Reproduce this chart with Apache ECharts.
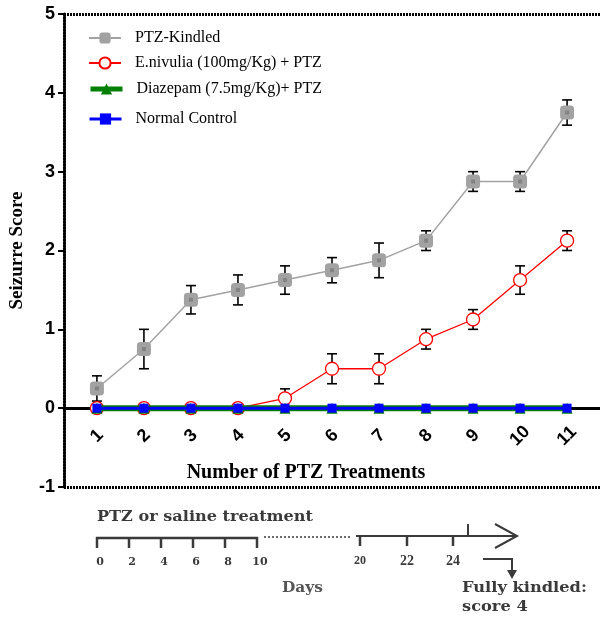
<!DOCTYPE html>
<html>
<head>
<meta charset="utf-8">
<script src="https://cdn.jsdelivr.net/npm/echarts@6/dist/echarts.min.js"></script>
<style>html,body{margin:0;padding:0;background:#fff}#chart{width:600px;height:620px}</style>
</head>
<body>
<div id="chart"></div>
<script>
// ---- data ----
var treatments = [1, 2, 3, 4, 5, 6, 7, 8, 9, 10, 11];
var ptzKindled = [0.25, 0.75, 1.375, 1.5, 1.625, 1.75, 1.875, 2.125, 2.875, 2.875, 3.75];
var ptzKindledSem = [0.16, 0.25, 0.18, 0.19, 0.18, 0.16, 0.22, 0.125, 0.125, 0.125, 0.16];
var eNivulia = [0, 0, 0, 0, 0.125, 0.5, 0.5, 0.875, 1.125, 1.625, 2.125];
var eNivuliaSem = [0, 0, 0, 0, 0.12, 0.19, 0.19, 0.125, 0.125, 0.18, 0.125];
var diazepam = [0, 0, 0, 0, 0, 0, 0, 0, 0, 0, 0];
var normalControl = [0, 0, 0, 0, 0, 0, 0, 0, 0, 0, 0];
var seriesNames = ['PTZ-Kindled', 'E.nivulia (100mg/Kg) + PTZ', 'Diazepam (7.5mg/Kg)+ PTZ', 'Normal Control'];
var yTicks = [-1, 0, 1, 2, 3, 4, 5];
var timelineEarlyDays = ['0', '2', '4', '6', '8', '10'];
var timelineLateDays = ['20', '22', '24'];

function pairs(ys) { return treatments.map(function (x, i) { return [x, ys[i]]; }); }
function errData(ys, sem) {
  var out = [];
  treatments.forEach(function (x, i) { if (sem[i] > 0) out.push([x, ys[i] - sem[i], ys[i] + sem[i]]); });
  return out;
}
function errRender(params, api) {
  var x = api.value(0);
  var lo = api.coord([x, api.value(1)]);
  var hi = api.coord([x, api.value(2)]);
  var w = 5;
  var st = { stroke: '#000', lineWidth: 1.6 };
  return {
    type: 'group',
    children: [
      { type: 'line', shape: { x1: hi[0], y1: hi[1], x2: lo[0], y2: lo[1] }, style: st },
      { type: 'line', shape: { x1: hi[0] - w, y1: hi[1], x2: hi[0] + w, y2: hi[1] }, style: st },
      { type: 'line', shape: { x1: lo[0] - w, y1: lo[1], x2: lo[0] + w, y2: lo[1] }, style: st }
    ]
  };
}

var chart = echarts.init(document.getElementById('chart'), null, { renderer: 'canvas' });
var serif = 'Liberation Serif';
var tlColor = '#3a3a3a';
var tlFont = 'bold 14px "DejaVu Serif"';

function legendFor(name, top, lw) {
  var l = {
    data: [name], left: 88, top: top, itemWidth: 32, itemHeight: 14, itemGap: 14, padding: 0,
    textStyle: { fontFamily: serif, fontSize: 16, color: '#000', padding: [0, 0, 0, 9] }
  };
  if (lw) l.lineStyle = { width: lw };
  return l;
}

var graphics = [];
// timeline annotation
graphics.push({ type: 'text', x: 97, y: 517, scaleX: 1.15, style: { text: 'PTZ or saline treatment', font: tlFont, fill: tlColor, verticalAlign: 'middle' } });
graphics.push({ type: 'line', shape: { x1: 96, y1: 538, x2: 258, y2: 538 }, style: { stroke: tlColor, lineWidth: 2.5 } });
var earlyX = [97, 129, 161, 193, 225, 257];
earlyX.forEach(function (x, i) {
  graphics.push({ type: 'line', shape: { x1: x, y1: 537, x2: x, y2: 548 }, style: { stroke: tlColor, lineWidth: 2.5 } });
  graphics.push({ type: 'text', x: x + 3, y: 562, style: { text: timelineEarlyDays[i], font: 'bold 11px "DejaVu Serif"', fill: tlColor, align: 'center', verticalAlign: 'middle' } });
});
graphics.push({ type: 'line', shape: { x1: 264, y1: 537, x2: 352, y2: 537 }, style: { stroke: tlColor, lineWidth: 1.5, lineDash: [2, 2] } });
graphics.push({ type: 'line', shape: { x1: 356, y1: 536, x2: 516, y2: 536 }, style: { stroke: tlColor, lineWidth: 2 } });
var lateX = [360, 407, 453];
lateX.forEach(function (x, i) {
  graphics.push({ type: 'line', shape: { x1: x, y1: 536, x2: x, y2: 546 }, style: { stroke: tlColor, lineWidth: 2.5 } });
  graphics.push({ type: 'text', x: x, y: 561, style: { text: timelineLateDays[i], font: (i === 0 ? 'bold 12px ' : 'bold 14px ') + '"Liberation Serif"', fill: tlColor, align: 'center', verticalAlign: 'middle' } });
});
graphics.push({ type: 'line', shape: { x1: 468, y1: 524, x2: 468, y2: 536 }, style: { stroke: tlColor, lineWidth: 2 } });
graphics.push({ type: 'polyline', shape: { points: [[495, 524], [517, 536], [495, 548]] }, style: { stroke: tlColor, lineWidth: 2, fill: null } });
graphics.push({ type: 'polyline', shape: { points: [[483, 559], [512, 559], [512, 571]] }, style: { stroke: tlColor, lineWidth: 2, fill: null } });
graphics.push({ type: 'polygon', shape: { points: [[507, 570], [517, 570], [512, 579]] }, style: { fill: tlColor } });
graphics.push({ type: 'text', x: 282, y: 588, scaleX: 1.1, style: { text: 'Days', font: 'bold 14px "DejaVu Serif"', fill: '#555', verticalAlign: 'middle' } });
graphics.push({ type: 'text', x: 462, y: 588, scaleX: 1.16, style: { text: 'Fully kindled:', font: tlFont, fill: tlColor, verticalAlign: 'middle' } });
graphics.push({ type: 'text', x: 462, y: 607, scaleX: 1.16, style: { text: 'score 4', font: tlFont, fill: tlColor, verticalAlign: 'middle' } });

var option = {
  animation: false,
  backgroundColor: '#fff',
  grid: { left: 62, right: 0, top: 14, bottom: 133, containLabel: false },
  legend: [legendFor(seriesNames[0], 30), legendFor(seriesNames[1], 55), legendFor(seriesNames[2], 81, 5), legendFor(seriesNames[3], 111, 3)],
  xAxis: {
    type: 'value', min: 0.3, max: 11.7,
    offset: -79,
    name: 'Number of PTZ Treatments', nameLocation: 'middle', nameGap: 55,
    nameTextStyle: { fontFamily: serif, fontWeight: 'bold', fontSize: 20, color: '#000', padding: [0, 52, 0, 0] },
    axisLine: { onZero: false, lineStyle: { color: '#000', width: 3, type: [2, 1] } },
    axisTick: { show: false },
    splitLine: { show: false },
    axisLabel: {
      customValues: treatments, rotate: 45, align: 'center', verticalAlign: 'middle', margin: 28,
      fontFamily: 'Liberation Sans', fontWeight: 'bold', fontSize: 18, color: '#000'
    }
  },
  yAxis: {
    type: 'value', min: yTicks[0], max: yTicks[yTicks.length - 1], interval: 1,
    name: 'Seizurre Score', nameLocation: 'middle', nameGap: 37,
    nameTextStyle: { fontFamily: serif, fontWeight: 'bold', fontSize: 19, color: '#000' },
    axisLine: { show: true, lineStyle: { color: '#000', width: 3, type: [2, 1] } },
    axisTick: { show: true, length: 6, lineStyle: { color: '#000', width: 2 } },
    splitLine: { show: false },
    axisLabel: { fontFamily: 'Liberation Sans', fontWeight: 'bold', fontSize: 18, color: '#000', margin: 9 }
  },
  series: [
    {
      type: 'custom', name: 'errPTZ', renderItem: errRender, data: errData(ptzKindled, ptzKindledSem), z: 1, silent: true,
      encode: { x: 0, y: [1, 2] }
    },
    {
      type: 'custom', name: 'errEN', renderItem: errRender, data: errData(eNivulia, eNivuliaSem), z: 1, silent: true,
      encode: { x: 0, y: [1, 2] }
    },
    {
      type: 'line', name: seriesNames[0], data: pairs(ptzKindled), z: 3,
      symbol: 'roundRect', symbolSize: 14,
      itemStyle: { color: '#a2a2a2' },
      lineStyle: { color: '#a2a2a2', width: 1.5 },
      markLine: {
        silent: true, symbol: 'none', label: { show: false },
        lineStyle: { color: '#000', width: 3, type: [2, 1] },
        data: [{ yAxis: 5 }, { yAxis: -1 }]
      }
    },
    {
      type: 'scatter', name: 'ptzDot', data: pairs(ptzKindled), z: 4, silent: true,
      symbol: 'rect', symbolSize: 4, itemStyle: { color: '#7c7c7c' }
    },
    {
      type: 'line', name: seriesNames[1], data: pairs(eNivulia), z: 5,
      symbol: 'circle', symbolSize: 13,
      itemStyle: { color: '#fff', borderColor: '#ff0000', borderWidth: 1.3 },
      lineStyle: { color: '#ff0000', width: 1.3 }
    },
    {
      type: 'line', name: seriesNames[2], data: pairs(diazepam), z: 6,
      symbol: 'triangle', symbolSize: 11,
      itemStyle: { color: '#008000' },
      lineStyle: { color: '#008000', width: 6 }
    },
    {
      type: 'line', name: seriesNames[3], data: pairs(normalControl), z: 7,
      symbol: 'rect', symbolSize: 9,
      itemStyle: { color: '#0000ff' },
      lineStyle: { color: '#0000ff', width: 3 }
    }
  ],
  graphic: graphics
};
chart.setOption(option);
</script>
</body>
</html>
